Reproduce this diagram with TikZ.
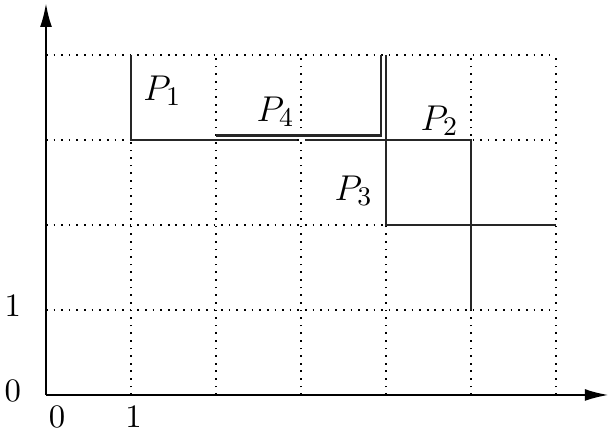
\documentclass[tikz,border=0pt]{standalone}
\usetikzlibrary{arrows.meta}
\begin{document}
\begin{tikzpicture}[x=1cm,y=1cm,
  gridline/.style={dotted,line width=0.55pt},
  pathline/.style={line width=0.85pt,black!85},
  axisline/.style={line width=0.75pt,-{Latex[length=0.28cm,width=0.14cm]}},
  plabel/.style={font=\fontsize{12.5}{14}\selectfont},
  tick/.style={font=\fontsize{11}{13}\selectfont}]
\useasboundingbox (-0.541,-0.494) rectangle (6.624,4.647);
% grid
\foreach \x in {1,...,6} \draw[gridline] (\x,0) -- (\x,4);
\foreach \y in {1,...,4} \draw[gridline] (0,\y) -- (6,\y);
% axes
\coordinate (O) at (0,0);
\coordinate (xend) at (6.62,0);
\coordinate (yend) at (0,4.61);
\draw[axisline] (O) -- (xend);
\draw[axisline] (O) -- (yend);
% paths
\draw[pathline] (1,4) -- (1,3) -- (2.95,3);
\draw[pathline] (3.05,3) -- (5,3) -- (5,1);
\draw[pathline] (4,4) -- (4,2) -- (6,2);
\draw[pathline] (2,3.05) -- (3.94,3.05) -- (3.94,4);
% labels
\node[plabel] (p1) at (1.37,3.58) {$P_1$};
\node[plabel] (p4) at (2.7,3.33) {$P_4$};
\node[plabel] (p2) at (4.63,3.23) {$P_2$};
\node[plabel] (p3) at (3.62,2.4) {$P_3$};
\node[tick] (ly0) at (-0.39,0.05) {$0$};
\node[tick] (ly1) at (-0.39,1.05) {$1$};
\node[tick] (lx0) at (0.13,-0.26) {$0$};
\node[tick] (lx1) at (1.03,-0.26) {$1$};
\end{tikzpicture}
\end{document}
